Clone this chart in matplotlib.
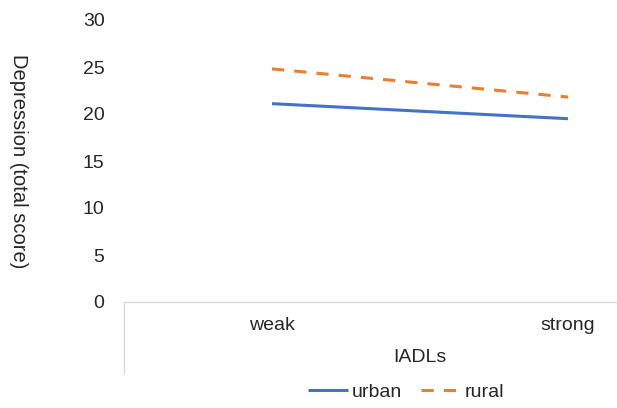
import matplotlib.pyplot as plt
from matplotlib.lines import Line2D

plt.rcParams['font.family'] = ['Liberation Sans', 'DejaVu Sans']

# data
categories = ['weak', 'strong']
urban = [21.1, 19.5]
rural = [24.8, 21.8]

W, H = 617, 408
fig = plt.figure(figsize=(W / 100, H / 100), dpi=100)
# plot area runs past the right edge of the picture (cropped original)
ax = fig.add_axes([124 / W, 1 - 302 / H, 592 / W, 282 / H])

x = range(len(categories))
ax.plot(x, urban, color='#4472C4', lw=2.2, solid_capstyle='butt', label='urban')
ax.plot(x, rural, color='#ED7D31', lw=2.2, ls=(0, (4, 3.3)), dash_capstyle='butt', label='rural')

ax.set_xlim(-0.5, 1.5)
ax.set_ylim(0, 30)
ax.set_yticks(range(0, 31, 5))
ax.set_xticks(list(x))
ax.set_xticklabels(categories)
ax.tick_params(axis='y', length=0, pad=14, labelsize=14, labelcolor='#262626')
ax.tick_params(axis='x', length=0, pad=11, labelsize=14, labelcolor='#262626')

for s in ['top', 'right', 'left']:
    ax.spines[s].set_visible(False)
ax.spines['bottom'].set_color('#D9D9D9')
ax.spines['bottom'].set_linewidth(1)

# category box line below the axis
fig.add_artist(Line2D([124 / W, 124 / W], [1 - 302 / H, 1 - 373 / H], color='#D9D9D9', lw=1))

ax.set_ylabel('Depression (total score)', fontsize=14.5, color='#262626',
              rotation=270, va='center', ha='center')
ax.yaxis.set_label_coords((18 - 124) / 592, 0.5)
fig.text(420 / W, 1 - 357 / H, 'IADLs', fontsize=14, color='#262626', ha='center', va='center')

fig.legend(loc='center', bbox_to_anchor=(406 / W, 1 - 392 / H), ncol=2, frameon=False,
           fontsize=14, handlelength=2.1, handletextpad=0.15, columnspacing=1.0,
           labelcolor='#262626')

fig.savefig('out.png', dpi=100)
